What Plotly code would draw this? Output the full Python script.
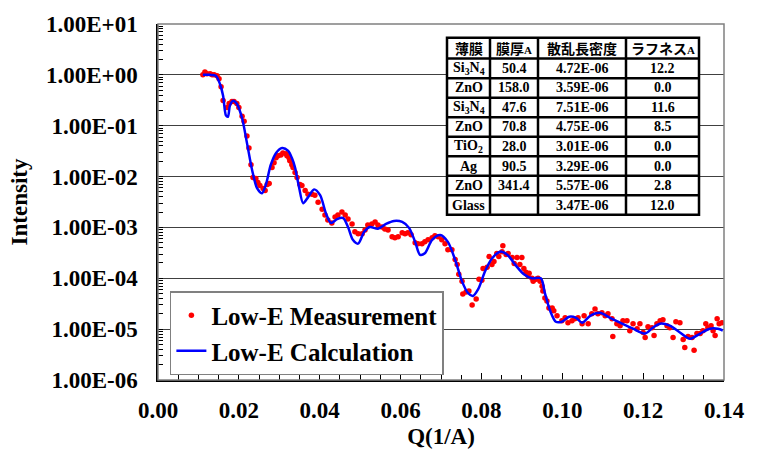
import plotly.graph_objects as go

# ---------------- data ----------------
meas_q = [0.0111, 0.0116, 0.0121, 0.0129, 0.0134, 0.0139, 0.0146, 0.0151, 0.0156, 0.0161,
          0.0171, 0.0176, 0.0183, 0.0188, 0.0195, 0.0200, 0.0208, 0.0213, 0.0220, 0.0225,
          0.0230, 0.0235, 0.0242, 0.0247, 0.0252, 0.0260, 0.0265, 0.0270, 0.0275, 0.0282,
          0.0287, 0.0292, 0.0297, 0.0304, 0.0309, 0.0317, 0.0319, 0.0324, 0.0326, 0.0331,
          0.0334, 0.0339, 0.0344, 0.0351, 0.0356, 0.0364, 0.0371, 0.0381, 0.0388, 0.0396,
          0.0406, 0.0413, 0.0420, 0.0430, 0.0438, 0.0445, 0.0455, 0.0463, 0.0470, 0.0480,
          0.0487, 0.0495, 0.0505, 0.0512, 0.0519, 0.0529, 0.0537, 0.0544, 0.0554, 0.0561,
          0.0569, 0.0579, 0.0586, 0.0594, 0.0604, 0.0611, 0.0618, 0.0626, 0.0636, 0.0643,
          0.0653, 0.0660, 0.0668, 0.0678, 0.0685, 0.0693, 0.0702, 0.0710, 0.0717, 0.0727,
          0.0735, 0.0740, 0.0744, 0.0752, 0.0754, 0.0762, 0.0769, 0.0777, 0.0787, 0.0794,
          0.0801, 0.0804, 0.0814, 0.0819, 0.0826, 0.0831, 0.0838, 0.0843, 0.0851, 0.0853,
          0.0861, 0.0866, 0.0876, 0.0881, 0.0888, 0.0895, 0.0900, 0.0905, 0.0910, 0.0915,
          0.0918, 0.0925, 0.0928, 0.0935, 0.0940, 0.0945, 0.0950, 0.0952, 0.0957, 0.0962,
          0.0967, 0.0975, 0.0979, 0.0987, 0.0999, 0.1007, 0.1014, 0.1024, 0.1031, 0.1039,
          0.1049, 0.1054, 0.1064, 0.1073, 0.1081, 0.1088, 0.1098, 0.1106, 0.1113, 0.1123,
          0.1125, 0.1135, 0.1143, 0.1150, 0.1160, 0.1167, 0.1175, 0.1185, 0.1192, 0.1200,
          0.1205, 0.1212, 0.1222, 0.1227, 0.1234, 0.1242, 0.1249, 0.1259, 0.1266, 0.1274,
          0.1281, 0.1291, 0.1299, 0.1303, 0.1311, 0.1321, 0.1326, 0.1333, 0.1341, 0.1348,
          0.1355, 0.1360, 0.1368, 0.1373, 0.1378, 0.1383, 0.1388, 0.1395]
meas_i = [1.0, 1.14, 1.05, 1.05, 1.0, 1.0, 0.96, 0.84, 0.585, 0.313,
          0.229, 0.274, 0.299, 0.299, 0.274, 0.229, 0.153, 0.122, 0.0625, 0.0366,
          0.0171, 0.00957, 0.00914, 0.00764, 0.00669, 0.00585, 0.00535, 0.0070, 0.00731, 0.0150,
          0.0187, 0.0234, 0.0256, 0.0267, 0.0292, 0.028, 0.0256, 0.0234, 0.0205, 0.0171,
          0.0150, 0.0120, 0.00957, 0.0070, 0.00669, 0.00535, 0.00447, 0.00447, 0.00428, 0.00313,
          0.00229, 0.00175, 0.00140, 0.00122, 0.00160, 0.00175, 0.00200, 0.00175, 0.00146, 0.00117,
          8.18e-4, 7.48e-4, 7.48e-4, 8.94e-4, 1.12e-3, 1.17e-3, 1.28e-3, 1.12e-3, 1.02e-3, 9.35e-4,
          8.94e-4, 6.54e-4, 6.26e-4, 6.54e-4, 7.82e-4, 7.48e-4, 7.82e-4, 7.15e-4, 5.00e-4, 4.78e-4,
          4.78e-4, 5.23e-4, 5.72e-4, 6.26e-4, 6.84e-4, 6.54e-4, 5.72e-4, 4.78e-4, 3.66e-4, 3.66e-4,
          2.34e-4, 1.87e-4, 1.20e-4, 8.74e-5, 4.89e-5, 5.35e-5, 5.6e-5, 2.99e-5, 3.91e-5, 9.57e-5,
          9.14e-5, 1.56e-4, 1.64e-4, 2.67e-4, 1.87e-4, 2.14e-4, 3.06e-4, 2.67e-4, 3.34e-4, 4.38e-4,
          2.92e-4, 3.06e-4, 2.56e-4, 1.95e-4, 2.56e-4, 1.87e-4, 2.56e-4, 1.56e-4, 1.31e-4, 1.14e-4,
          1.25e-4, 1.00e-4, 8.74e-5, 9.57e-5, 1.00e-4, 8.74e-5, 7.0e-5, 5.6e-5, 4.09e-5, 3.57e-5,
          2.61e-5, 2.61e-5, 2.29e-5, 1.83e-5, 1.46e-5, 1.67e-5, 1.34e-5, 1.46e-5, 1.60e-5, 1.67e-5,
          1.28e-5, 1.83e-5, 1.28e-5, 2.00e-5, 2.50e-5, 2.00e-5, 2.09e-5, 1.83e-5, 2.00e-5, 1.60e-5,
          7.15e-6, 1.28e-5, 1.17e-5, 1.46e-5, 1.46e-5, 9.35e-6, 1.28e-5, 1.02e-5, 1.28e-5, 8.55e-6,
          6.84e-6, 1.12e-5, 1.07e-5, 7.48e-6, 1.28e-5, 1.46e-5, 1.53e-5, 1.17e-5, 1.07e-5, 6.84e-6,
          1.40e-5, 1.34e-5, 6.25e-6, 4.38e-6, 7.15e-6, 6.84e-6, 3.83e-6, 8.18e-6, 8.18e-6, 9.35e-6,
          1.28e-5, 1.07e-5, 1.17e-5, 9.35e-6, 7.48e-6, 1.60e-5, 1.28e-5, 1.34e-5]

calc_q = [0.0111, 0.0129, 0.0143, 0.0153, 0.0161, 0.0168, 0.0173, 0.0178, 0.0186, 0.0195,
          0.0208, 0.0220, 0.0233, 0.0245, 0.0257, 0.0267, 0.0279, 0.0292, 0.0307, 0.0322,
          0.0331, 0.0339, 0.0349, 0.0359, 0.0371, 0.0386, 0.0401, 0.0416, 0.0428, 0.0443,
          0.0458, 0.0470, 0.0482, 0.0495, 0.0510, 0.0524, 0.0544, 0.0564, 0.0584, 0.0604,
          0.0621, 0.0636, 0.0648, 0.0660, 0.0678, 0.0698, 0.0717, 0.0735, 0.0752, 0.0767,
          0.0779, 0.0792, 0.0809, 0.0826, 0.0846, 0.0866, 0.0885, 0.0905, 0.0925, 0.0947,
          0.0957, 0.0970, 0.0984, 0.0999, 0.1017, 0.1034, 0.1049, 0.1069, 0.1093, 0.1118,
          0.1143, 0.1175, 0.1205, 0.1224, 0.1242, 0.1266, 0.1291, 0.1316, 0.1341, 0.1365,
          0.1385, 0.1397]
calc_i = [1.0, 1.0, 0.96, 0.67, 0.39, 0.16, 0.15, 0.25, 0.31, 0.27,
          0.14, 0.046, 0.0132, 0.0059, 0.0047, 0.0070, 0.0171, 0.0292, 0.0366, 0.032,
          0.0234, 0.0150, 0.0061, 0.0030, 0.0039, 0.0056, 0.0043, 0.00183, 0.00122, 0.00146,
          0.00153, 0.00102, 5.7e-4, 4.8e-4, 8.2e-4, 1.02e-3, 9.4e-4, 1.17e-3, 1.34e-3, 1.28e-3,
          9.8e-4, 5.2e-4, 2.9e-4, 3.1e-4, 5.7e-4, 7.1e-4, 5.2e-4, 2.3e-4, 8.7e-5, 5.1e-5,
          4.5e-5, 6.1e-5, 1.37e-4, 2.44e-4, 3.34e-4, 2.8e-4, 1.79e-4, 1.2e-4, 1.0e-4, 1.0e-4,
          5.1e-5, 2.29e-5, 1.40e-5, 1.40e-5, 1.75e-5, 1.67e-5, 1.34e-5, 1.83e-5, 2.09e-5, 1.67e-5,
          1.34e-5, 1.02e-5, 8.2e-6, 1.07e-5, 1.28e-5, 1.17e-5, 8.6e-6, 6.5e-6, 8.2e-6, 1.02e-5,
          1.02e-5, 9.4e-6]

y_tickvals = [1e-6, 1e-5, 1e-4, 1e-3, 1e-2, 1e-1, 1e0, 1e1]
y_ticktext = ["1.00E-06", "1.00E-05", "1.00E-04", "1.00E-03", "1.00E-02", "1.00E-01", "1.00E+00", "1.00E+01"]
x_tickvals = [0.00, 0.02, 0.04, 0.06, 0.08, 0.10, 0.12, 0.14]
x_ticktext = ["0.00", "0.02", "0.04", "0.06", "0.08", "0.10", "0.12", "0.14"]

table_header = ["薄膜", "膜厚<span style='font-family:Liberation Serif;font-size:11px'>A</span>",
                "散乱長密度", "ラフネス<span style='font-family:Liberation Serif;font-size:11px'>A</span>"]
table_film = ["Si<sub>3</sub>N<sub>4</sub>", "ZnO", "Si<sub>3</sub>N<sub>4</sub>", "ZnO",
              "TiO<sub>2</sub>", "Ag", "ZnO", "Glass"]
table_thick = ["50.4", "158.0", "47.6", "70.8", "28.0", "90.5", "341.4", ""]
table_sld = ["4.72E-06", "3.59E-06", "7.51E-06", "4.75E-06", "3.01E-06", "3.29E-06", "5.57E-06", "3.47E-06"]
table_rough = ["12.2", "0.0", "11.6", "8.5", "0.0", "0.0", "2.8", "12.0"]

# ---------------- figure ----------------
SERIF = "Liberation Serif"
W, H = 758, 459
L, R, T, B = 158, 34, 20, 79
PW, PH = W - L - R, H - T - B

def px(x):
    return (x - L) / PW

def py(y):
    return (H - B - y) / PH

# minor log tick positions (2..9 within each decade)
y_minor = [m * 10.0 ** e for e in range(-6, 1) for m in range(2, 10)]

fig = go.Figure()
fig.add_trace(go.Scatter(x=meas_q, y=meas_i, mode="markers", name="Low-E Measurement",
                         marker=dict(color="#ff0000", size=5.5, line=dict(width=0))))
fig.add_trace(go.Scatter(x=calc_q, y=calc_i, mode="lines", name="Low-E Calculation",
                         line=dict(color="#0000ff", width=2.5, shape="spline", smoothing=0.8)))

fig.update_layout(
    width=W, height=H,
    margin=dict(l=L, r=R, t=T, b=B),
    paper_bgcolor="white", plot_bgcolor="white",
    font=dict(family=SERIF, size=23, color="black"),
    showlegend=True,
    legend=dict(x=0.021, y=0.25, xanchor="left", yanchor="top",
                bgcolor="white", bordercolor="#808080", borderwidth=1.5,
                font=dict(family=SERIF, size=25, color="black", weight="bold"),
                tracegroupgap=0, itemwidth=30),
)

fig.update_xaxes(range=[0, 0.14], tickvals=x_tickvals, ticktext=x_ticktext,
                 ticks="inside", ticklen=7, tickcolor="black", tickwidth=1,
                 minor=dict(dtick=0.005, tick0=0, ticks="inside", ticklen=5, tickcolor="black"),
                 showline=True, linecolor="black", linewidth=1.5, mirror=False,
                 showgrid=False, zeroline=False, ticklabelstandoff=9,
                 tickfont=dict(family=SERIF, size=23, weight="bold"),
                 title=dict(text="<b>Q(1/A)</b>", font=dict(family=SERIF, size=23), standoff=6))

fig.update_yaxes(type="log", range=[-6, 1], tickvals=y_tickvals, ticktext=y_ticktext,
                 ticks="inside", ticklen=5, tickcolor="black", tickwidth=1,
                 showgrid=True, gridcolor="#404040", gridwidth=1,
                 minor=dict(ticks="inside", ticklen=5, tickcolor="black", tickwidth=1,
                            tickvals=y_minor, showgrid=False),
                 showline=True, linecolor="black", linewidth=1.5, mirror=False,
                 zeroline=False, ticklabelstandoff=14,
                 tickfont=dict(family=SERIF, size=23, weight="bold"),
                 title=dict(text="<b>Intensity</b>", font=dict(family=SERIF, size=23), standoff=12))

# outer plot frame (top/right gray)
fig.add_shape(type="rect", xref="paper", yref="paper", x0=0, y0=0, x1=1, y1=1,
              line=dict(color="#808080", width=1.5), layer="above")

# ---------------- table ----------------
col_edges = [447, 490, 538, 626, 699]
row_edges = [34, 55] + [55 + 19.75 * (k + 1) for k in range(8)]
fig.add_shape(type="rect", xref="paper", yref="paper",
              x0=px(col_edges[0]), x1=px(col_edges[-1]), y0=py(row_edges[-1]), y1=py(row_edges[0]),
              fillcolor="white", line=dict(color="black", width=2.5), layer="above")
for cx in col_edges[1:-1]:
    fig.add_shape(type="line", xref="paper", yref="paper",
                  x0=px(cx), x1=px(cx), y0=py(row_edges[-1]), y1=py(row_edges[0]),
                  line=dict(color="black", width=2.5), layer="above")
for ry in row_edges[1:-1]:
    fig.add_shape(type="line", xref="paper", yref="paper",
                  x0=px(col_edges[0]), x1=px(col_edges[-1]), y0=py(ry), y1=py(ry),
                  line=dict(color="black", width=2.5), layer="above")

def cell(col, row, text, family, size):
    xc = (col_edges[col] + col_edges[col + 1]) / 2
    yc = (row_edges[row] + row_edges[row + 1]) / 2
    fig.add_annotation(x=px(xc), y=py(yc), xref="paper", yref="paper", text="<b>" + text + "</b>",
                       showarrow=False, xanchor="center", yanchor="middle",
                       font=dict(family=family, size=size, color="black"))

for c, t in enumerate(table_header):
    cell(c, 0, t, "Noto Sans CJK JP", 14)
for r in range(8):
    cell(0, r + 1, table_film[r], SERIF, 14)
    cell(1, r + 1, table_thick[r], SERIF, 14)
    cell(2, r + 1, table_sld[r], SERIF, 14)
    cell(3, r + 1, table_rough[r], SERIF, 14)

fig.write_html("out.html")
